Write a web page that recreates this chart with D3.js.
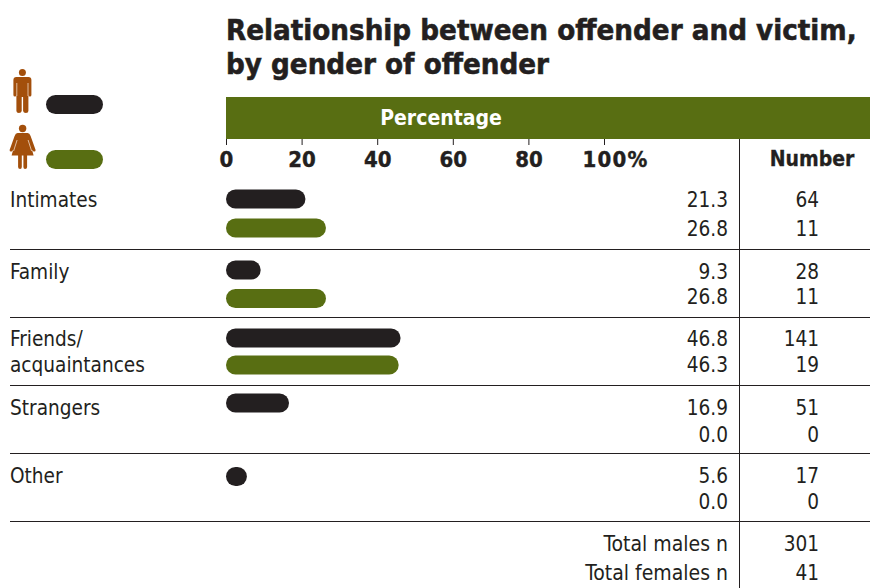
<!DOCTYPE html>
<html><head><meta charset="utf-8">
<script src="https://cdn.jsdelivr.net/npm/d3@7/dist/d3.min.js"></script>
<style>html,body{margin:0;background:#fff}svg{display:block}text{font-family:"DejaVu Sans Condensed","DejaVu Sans",sans-serif;fill:#231f20}</style>
</head><body><svg id="c" width="870" height="588"></svg>
<script>
const categories = ["Intimates","Family","Friends/\nacquaintances","Strangers","Other"];
const malePct = [21.3,9.3,46.8,16.9,5.6];
const femalePct = [26.8,26.8,46.3,0.0,0.0];
const maleN = [64,28,141,51,17];
const femaleN = [11,11,19,0,0];
const totalLabels = ["Total males n","Total females n"];
const totals = [301,41];
const ticks = [0,20,40,60,80,100];
const titleLines = ["Relationship between offender and victim,","by gender of offender"];

const BLACK="#231f20", GREEN="#586e12", BROWN="#a34f0b";
const svg=d3.select("#c");
const axisX=d3.scaleLinear().domain([0,100]).range([226,604]);
// bars are printed a touch shorter per unit than the ruled axis
const barX=d3.scaleLinear().domain([0,100]).range([226,599]);

// vertical layout of each group: bar centres, text centres, rules below
const maleBarY=[199,270,338,403,476.5];
const femaleBarY=[228,298.5,365,0,0];
const maleTextY=[199,271,338,407,475];
const femaleTextY=[228,296,364,434,501];
const rules=[249,317,385,453,521];
const FS=20.6, BASE=7.6;

titleLines.forEach((t,i)=>svg.append("text").attr("x",226).attr("y",40+i*34)
  .attr("font-size",29.2).attr("font-weight",700).attr("stroke",BLACK).attr("stroke-width",.55).text(t));

// header band and axis
svg.append("rect").attr("x",226).attr("y",97).attr("width",644).attr("height",42).attr("fill",GREEN);
svg.append("text").attr("x",441).attr("y",125).attr("text-anchor","middle").attr("font-size",21)
  .attr("font-weight",700).style("fill","#fff").text("Percentage");
const axis=svg.append("g").attr("transform","translate(0,139)")
  .call(d3.axisBottom(axisX).tickValues(ticks).tickSize(6).tickFormat(d=>d===100?"100%":d));
axis.select(".domain").remove();
axis.selectAll("line").attr("stroke",BLACK);
axis.selectAll("text").attr("y",20).attr("dy","0.1em").attr("dominant-baseline","middle")
  .attr("font-size",22).attr("font-weight",700).attr("stroke",BLACK).attr("stroke-width",.4)
  .style("font-family",'"DejaVu Sans Condensed"');
// the percent label sits to the right of its tick
axis.selectAll("text").filter(d=>d===100).attr("x",11).style("letter-spacing","1.2px");
svg.append("text").attr("x",812).attr("y",166).attr("text-anchor","middle").attr("font-size",21)
  .attr("font-weight",700).attr("stroke",BLACK).attr("stroke-width",.3).text("Number");
svg.append("line").attr("x1",739.5).attr("x2",739.5).attr("y1",139).attr("y2",588).attr("stroke",BLACK);

// horizontal rules between groups
svg.selectAll(".rule").data(rules).join("line").attr("class","rule")
  .attr("x1",10).attr("x2",870).attr("y1",d=>d+.5).attr("y2",d=>d+.5).attr("stroke",BLACK);

// category rows
categories.forEach((c,i)=>{
  c.split("\n").forEach((s,k)=>svg.append("text").attr("x",10).attr("y",maleTextY[i]+BASE+k*26.5)
    .attr("font-size",FS).text(s));
  [[malePct[i],maleN[i],BLACK,maleBarY[i],maleTextY[i]],
   [femalePct[i],femaleN[i],GREEN,femaleBarY[i],femaleTextY[i]]].forEach(([p,n,col,by,ty])=>{
    if(p>0) svg.append("rect").attr("x",barX(0)).attr("y",by-9.5)
      .attr("width",barX(p)-barX(0)).attr("height",19).attr("rx",9.5).attr("fill",col);
    svg.append("text").attr("x",728).attr("y",ty+BASE).attr("text-anchor","end").attr("font-size",FS).text(p.toFixed(1));
    svg.append("text").attr("x",819).attr("y",ty+BASE).attr("text-anchor","end").attr("font-size",FS).text(n);
  });
});

// totals
totalLabels.forEach((l,i)=>{
  const y=551+i*29;
  svg.append("text").attr("x",728).attr("y",y).attr("text-anchor","end").attr("font-size",21).text(l);
  svg.append("text").attr("x",819).attr("y",y).attr("text-anchor","end").attr("font-size",FS).text(totals[i]);
});

// legend: pills beside the two pictograms
svg.append("rect").attr("x",46).attr("y",95).attr("width",57).attr("height",19).attr("rx",9.5).attr("fill",BLACK);
svg.append("rect").attr("x",46).attr("y",150).attr("width",57).attr("height",19).attr("rx",9.5).attr("fill",GREEN);
const man=svg.append("g").attr("transform","translate(22.4,0)");
man.append("circle").attr("cx",0).attr("cy",72.4).attr("r",3.5).attr("fill",BROWN);
man.append("path").attr("fill",BROWN).attr("d","M-9,80 Q-9,77 -6,77 H6 Q9,77 9,80 V95 Q9,96.5 7.5,96.5 Q6,96.5 6,95 V111 Q6,113 3.5,113 Q1,113 .7,111 V97 H-.7 V111 Q-1,113 -3.5,113 Q-6,113 -6,111 V95 Q-6,96.5 -7.5,96.5 Q-9,96.5 -9,95 Z");
man.append("path").attr("fill","none").attr("stroke","#f0d9c6").attr("stroke-width",.8).attr("d","M-5.6,83 V96 M5.6,83 V96");
const woman=svg.append("g").attr("transform","translate(22.6,0)");
woman.append("circle").attr("cx",0).attr("cy",128.5).attr("r",3.7).attr("fill",BROWN);
woman.append("path").attr("fill",BROWN).attr("d","M-5,133 H5 Q7,133 8,136 L13,150 Q13,152 11,151.5 L9.5,150 L11,155.5 H4.5 V167 Q4.5,169 2.5,169 Q.8,169 .8,167 V155.5 H-.8 V167 Q-.8,169 -2.5,169 Q-4.5,169 -4.5,167 V155.5 H-11 L-9.5,150 L-11,151.5 Q-13,152 -13,150 L-8,136 Q-7,133 -5,133 Z");
woman.append("path").attr("fill","none").attr("stroke","#f0d9c6").attr("stroke-width",.8).attr("d","M-5.5,140 L-9,151 M5.5,140 L9,151");
</script></body></html>
